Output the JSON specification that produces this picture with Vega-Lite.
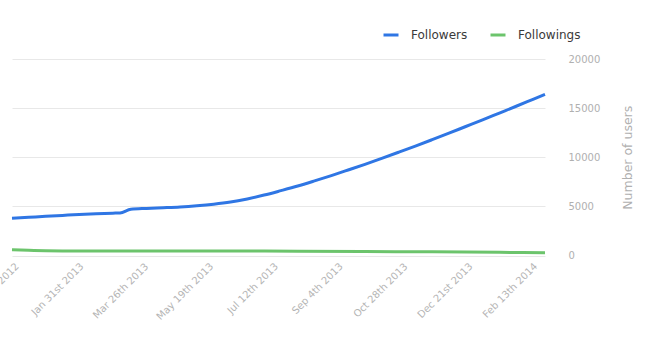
{
  "$schema": "https://vega.github.io/schema/vega-lite/v6.json",
  "autosize": "none",
  "width": 533,
  "height": 196.5,
  "padding": {"left": 12, "top": 59, "right": 103, "bottom": 104.5},
  "background": "white",
  "config": {
    "view": {"stroke": null},
    "font": "DejaVu Sans"
  },
  "data": {
    "values": [
      {"date": "2012-12-04", "series": "Followers", "users": 3790},
      {"date": "2012-12-18", "series": "Followers", "users": 3890},
      {"date": "2013-01-01", "series": "Followers", "users": 3990},
      {"date": "2013-01-15", "series": "Followers", "users": 4080},
      {"date": "2013-01-29", "series": "Followers", "users": 4170},
      {"date": "2013-02-12", "series": "Followers", "users": 4250},
      {"date": "2013-02-26", "series": "Followers", "users": 4310},
      {"date": "2013-03-04", "series": "Followers", "users": 4330},
      {"date": "2013-03-13", "series": "Followers", "users": 4700},
      {"date": "2013-03-26", "series": "Followers", "users": 4790},
      {"date": "2013-04-09", "series": "Followers", "users": 4860},
      {"date": "2013-04-23", "series": "Followers", "users": 4940},
      {"date": "2013-05-07", "series": "Followers", "users": 5060},
      {"date": "2013-05-21", "series": "Followers", "users": 5220},
      {"date": "2013-06-04", "series": "Followers", "users": 5440},
      {"date": "2013-06-18", "series": "Followers", "users": 5760},
      {"date": "2013-07-02", "series": "Followers", "users": 6150},
      {"date": "2013-07-16", "series": "Followers", "users": 6600},
      {"date": "2013-07-30", "series": "Followers", "users": 7070},
      {"date": "2013-08-13", "series": "Followers", "users": 7590},
      {"date": "2013-08-27", "series": "Followers", "users": 8130},
      {"date": "2013-09-10", "series": "Followers", "users": 8700},
      {"date": "2013-09-24", "series": "Followers", "users": 9280},
      {"date": "2013-10-08", "series": "Followers", "users": 9890},
      {"date": "2013-10-22", "series": "Followers", "users": 10510},
      {"date": "2013-11-05", "series": "Followers", "users": 11140},
      {"date": "2013-11-19", "series": "Followers", "users": 11790},
      {"date": "2013-12-03", "series": "Followers", "users": 12450},
      {"date": "2013-12-17", "series": "Followers", "users": 13130},
      {"date": "2013-12-31", "series": "Followers", "users": 13810},
      {"date": "2014-01-14", "series": "Followers", "users": 14500},
      {"date": "2014-01-28", "series": "Followers", "users": 15190},
      {"date": "2014-02-11", "series": "Followers", "users": 15890},
      {"date": "2014-02-21", "series": "Followers", "users": 16390},
      {"date": "2012-12-04", "series": "Followings", "users": 580},
      {"date": "2012-12-18", "series": "Followings", "users": 530},
      {"date": "2013-01-01", "series": "Followings", "users": 490},
      {"date": "2013-01-15", "series": "Followings", "users": 470},
      {"date": "2013-02-12", "series": "Followings", "users": 460},
      {"date": "2013-04-09", "series": "Followings", "users": 455},
      {"date": "2013-06-04", "series": "Followings", "users": 450},
      {"date": "2013-07-30", "series": "Followings", "users": 440},
      {"date": "2013-09-24", "series": "Followings", "users": 410},
      {"date": "2013-11-19", "series": "Followings", "users": 370},
      {"date": "2014-01-14", "series": "Followings", "users": 320},
      {"date": "2014-02-21", "series": "Followings", "users": 290}
    ]
  },
  "mark": {"type": "line", "strokeWidth": 3, "interpolate": "monotone"},
  "encoding": {
    "x": {
      "field": "date",
      "type": "temporal",
      "scale": {
        "type": "utc",
        "domain": [
          {"year": 2012, "month": 12, "date": 4, "utc": true},
          {"year": 2014, "month": 2, "date": 21, "utc": true}
        ]
      },
      "axis": {
        "title": null,
        "grid": false,
        "domain": false,
        "ticks": false,
        "labelAngle": -45,
        "labelAlign": "right",
        "labelBaseline": "middle",
        "labelPadding": 9,
        "labelFontSize": 10,
        "labelColor": "#b5b5b5",
        "labelOverlap": false,
        "labelFlush": false,
        "values": [
          {"year": 2012, "month": 12, "date": 8, "utc": true},
          {"year": 2013, "month": 1, "date": 31, "utc": true},
          {"year": 2013, "month": 3, "date": 26, "utc": true},
          {"year": 2013, "month": 5, "date": 19, "utc": true},
          {"year": 2013, "month": 7, "date": 12, "utc": true},
          {"year": 2013, "month": 9, "date": 4, "utc": true},
          {"year": 2013, "month": 10, "date": 28, "utc": true},
          {"year": 2013, "month": 12, "date": 21, "utc": true},
          {"year": 2014, "month": 2, "date": 13, "utc": true}
        ],
        "labelExpr": "utcFormat(datum.value, '%b ') + utcdate(datum.value) + ((utcdate(datum.value) == 1 || utcdate(datum.value) == 21 || utcdate(datum.value) == 31) ? 'st' : (utcdate(datum.value) == 2 || utcdate(datum.value) == 22) ? 'nd' : (utcdate(datum.value) == 3 || utcdate(datum.value) == 23) ? 'rd' : 'th') + utcFormat(datum.value, ' %Y')"
      }
    },
    "y": {
      "field": "users",
      "type": "quantitative",
      "scale": {"domain": [0, 20000], "nice": false},
      "axis": {
        "orient": "right",
        "title": "Number of users",
        "titleAngle": -90,
        "titleColor": "#b0b0b0",
        "titleFontSize": 12.5,
        "titleFontWeight": "normal",
        "titlePadding": 35,
        "values": [0, 5000, 10000, 15000, 20000],
        "format": "d",
        "grid": true,
        "gridColor": "#e8e8e8",
        "gridWidth": 1,
        "domain": false,
        "ticks": false,
        "labelPadding": 23,
        "labelAlign": "left",
        "labelFontSize": 10,
        "labelColor": "#b0b0b0"
      }
    },
    "color": {
      "field": "series",
      "type": "nominal",
      "scale": {"domain": ["Followers", "Followings"], "range": ["#2f76e4", "#6cc46c"]},
      "legend": {
        "title": null,
        "orient": "none",
        "direction": "horizontal",
        "legendX": 370,
        "legendY": -33,
        "symbolType": "stroke",
        "symbolSize": 225,
        "symbolStrokeWidth": 3,
        "labelFontSize": 12,
        "labelColor": "#3a3a3a",
        "labelOffset": 11,
        "columnPadding": 16
      }
    }
  }
}
